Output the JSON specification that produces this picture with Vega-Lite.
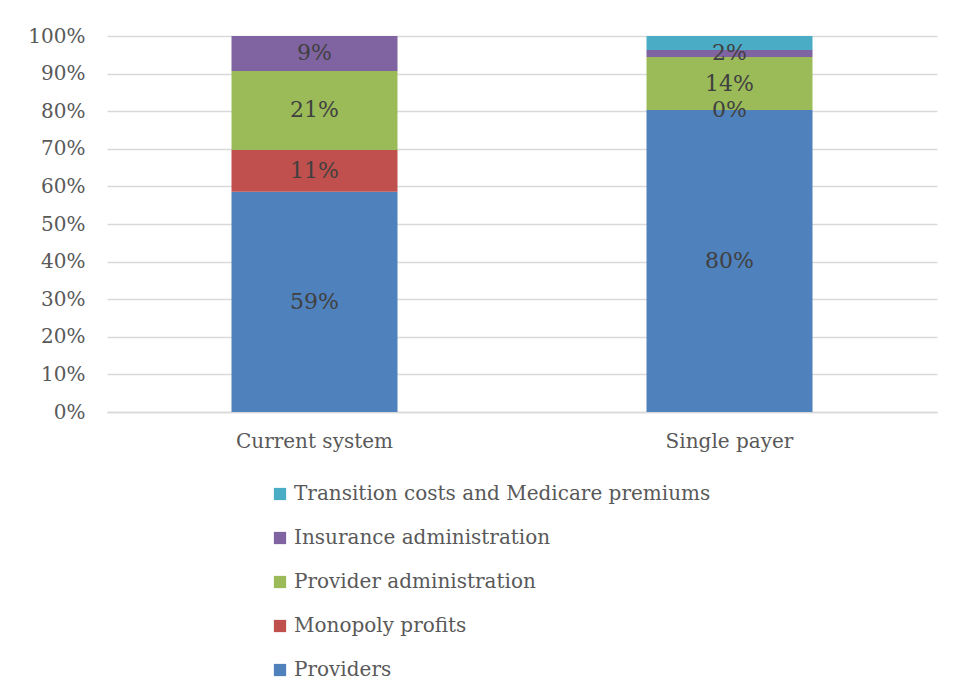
{
  "$schema": "https://vega.github.io/schema/vega-lite/v6.json",
  "width": 830,
  "height": 376,
  "autosize": {"type": "none"},
  "padding": {"left": 107, "top": 36, "right": 20, "bottom": 288},
  "background": "white",
  "config": {
    "font": "DejaVu Serif",
    "view": {"stroke": null}
  },
  "data": {
    "values": [
      {"system": "Current system", "category": "Providers", "ord": 1, "value": 0.586},
      {"system": "Current system", "category": "Monopoly profits", "ord": 2, "value": 0.111},
      {"system": "Current system", "category": "Provider administration", "ord": 3, "value": 0.21},
      {"system": "Current system", "category": "Insurance administration", "ord": 4, "value": 0.093},
      {"system": "Current system", "category": "Transition costs and Medicare premiums", "ord": 5, "value": 0},
      {"system": "Single payer", "category": "Providers", "ord": 1, "value": 0.803},
      {"system": "Single payer", "category": "Monopoly profits", "ord": 2, "value": 0},
      {"system": "Single payer", "category": "Provider administration", "ord": 3, "value": 0.141},
      {"system": "Single payer", "category": "Insurance administration", "ord": 4, "value": 0.019},
      {"system": "Single payer", "category": "Transition costs and Medicare premiums", "ord": 5, "value": 0.037}
    ]
  },
  "encoding": {
    "x": {
      "field": "system",
      "type": "nominal",
      "scale": {"paddingInner": 0.6, "paddingOuter": 0.3},
      "axis": {
        "title": null,
        "labelAngle": 0,
        "labelFontSize": 20,
        "labelColor": "#595959",
        "labelPadding": 19,
        "ticks": false,
        "domainColor": "#d9d9d9",
        "domainWidth": 1.5
      }
    },
    "y": {
      "field": "value",
      "type": "quantitative",
      "stack": "zero",
      "scale": {"domain": [0, 1]},
      "axis": {
        "title": null,
        "format": ".0%",
        "values": [0, 0.1, 0.2, 0.3, 0.4, 0.5, 0.6, 0.7, 0.8, 0.9, 1],
        "labelOverlap": false,
        "labelFontSize": 20,
        "labelColor": "#595959",
        "labelPadding": 22,
        "ticks": false,
        "domain": false,
        "gridColor": "#d9d9d9",
        "gridWidth": 1.5
      }
    },
    "order": {"field": "ord", "type": "quantitative"}
  },
  "layer": [
    {
      "mark": {"type": "bar"},
      "encoding": {
        "color": {
          "field": "category",
          "type": "nominal",
          "scale": {
            "domain": ["Transition costs and Medicare premiums", "Insurance administration", "Provider administration", "Monopoly profits", "Providers"],
            "range": ["#4BACC6", "#8064A2", "#9BBB59", "#C0504D", "#4F81BD"]
          },
          "legend": {
            "title": null,
            "orient": "none",
            "legendX": 163,
            "legendY": 448,
            "direction": "vertical",
            "symbolType": "square",
            "symbolSize": 150,
            "symbolStrokeWidth": 0,
            "symbolOpacity": 1,
            "labelFontSize": 20,
            "labelColor": "#595959",
            "labelOffset": 4,
            "labelLimit": 600,
            "rowPadding": 24
          }
        }
      }
    },
    {
      "transform": [{"filter": "datum.category !== 'Transition costs and Medicare premiums'"}],
      "mark": {"type": "text", "fontSize": 22, "color": "#404040", "baseline": "middle"},
      "encoding": {
        "y": {"field": "value", "type": "quantitative", "stack": "zero", "bandPosition": 0.5},
        "text": {"field": "value", "type": "quantitative", "format": ".0%"}
      }
    }
  ]
}
